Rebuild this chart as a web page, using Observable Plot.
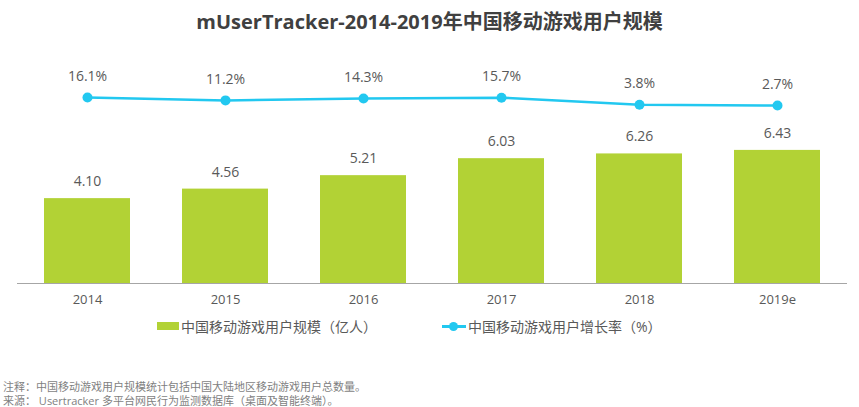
<!DOCTYPE html>
<html><head><meta charset="utf-8">
<script src="https://cdn.jsdelivr.net/npm/d3@7"></script>
<script src="https://cdn.jsdelivr.net/npm/@observablehq/plot@0.6"></script>
<style>
body{margin:0;background:#fff;font-family:"Open Sans","Noto Sans CJK SC",sans-serif;}
#wrap{position:relative;width:859px;height:407px;overflow:hidden;}
.abs{position:absolute;}
#title{left:0;width:859px;top:6px;text-align:center;font-size:20px;font-weight:bold;color:#404040;}
.leg{font-size:14px;color:#595959;white-space:nowrap;}
.note{left:3px;font-size:11px;color:#7f7f7f;white-space:nowrap;}
svg{position:absolute;left:0;top:45px;}
</style></head>
<body><div id="wrap">
<div id="title" class="abs">mUserTracker-2014-2019年中国移动游戏用户规模</div>
<div id="chart"></div>
<div class="abs" style="left:157px;top:322px;width:22px;height:8px;background:#b2d235"></div>
<div class="abs leg" style="left:181px;top:316px">中国移动游戏用户规模（亿人）</div>
<div class="abs" style="left:442px;top:325px;width:24px;height:2.5px;background:#22c8f0"></div>
<div class="abs" style="left:449px;top:322px;width:9px;height:9px;border-radius:50%;background:#22c8f0"></div>
<div class="abs leg" style="left:468px;top:316px">中国移动游戏用户增长率（%）</div>
<div class="abs note" style="top:378px">注释：中国移动游戏用户规模统计包括中国大陆地区移动游戏用户总数量。</div>
<div class="abs note" style="top:392px">来源： Usertracker 多平台网民行为监测数据库（桌面及智能终端）。</div>
</div>
<script>
const years = ["2014","2015","2016","2017","2018","2019e"];
const users = [4.10, 4.56, 5.21, 6.03, 6.26, 6.43];
const growth = [16.1, 11.2, 14.3, 15.7, 3.8, 2.7];

const barData = years.map((y,i)=>({year:y, v:users[i]}));
const lineData = years.map((y,i)=>({year:y, g:growth[i]}));
const common = {width:859, height:270, marginLeft:17, marginRight:12, marginTop:31, marginBottom:32,
  style:{fontFamily:'"Open Sans","Noto Sans CJK SC",sans-serif', background:"transparent"}};
const xOpt = {domain:years, paddingInner:0.38, paddingOuter:0.19};

const p1 = Plot.plot({
  ...common,
  x:{...xOpt},
  y:{domain:[0,10], axis:null},
  marks:[
    Plot.barY(barData,{x:"year", y:"v", fill:"#b2d235"}),
    Plot.ruleY([0],{stroke:"#a6a6a6", strokeWidth:1.2}),
    Plot.text(barData,{x:"year", y:"v", text:d=>d.v.toFixed(2), dy:-17, fontSize:14, fill:"#595959"}),
    Plot.axisX({tickSize:0, tickPadding:11, fontSize:13, color:"#595959", label:null})
  ]
});
const p2 = Plot.plot({
  ...common,
  x:{...xOpt, axis:null},
  y:{domain:[0,100], range:[61.6,1.6], axis:null},
  marks:[
    Plot.line(lineData,{x:"year", y:"g", stroke:"#22c8f0", strokeWidth:2.5}),
    Plot.dot(lineData,{x:"year", y:"g", r:5, fill:"#22c8f0"}),
    Plot.text(lineData,{x:"year", y:"g", text:d=>d.g.toFixed(1)+"%", dy:-21, fontSize:14, fill:"#595959"})
  ]
});
document.getElementById("chart").append(p1, p2);
</script>
</body></html>
